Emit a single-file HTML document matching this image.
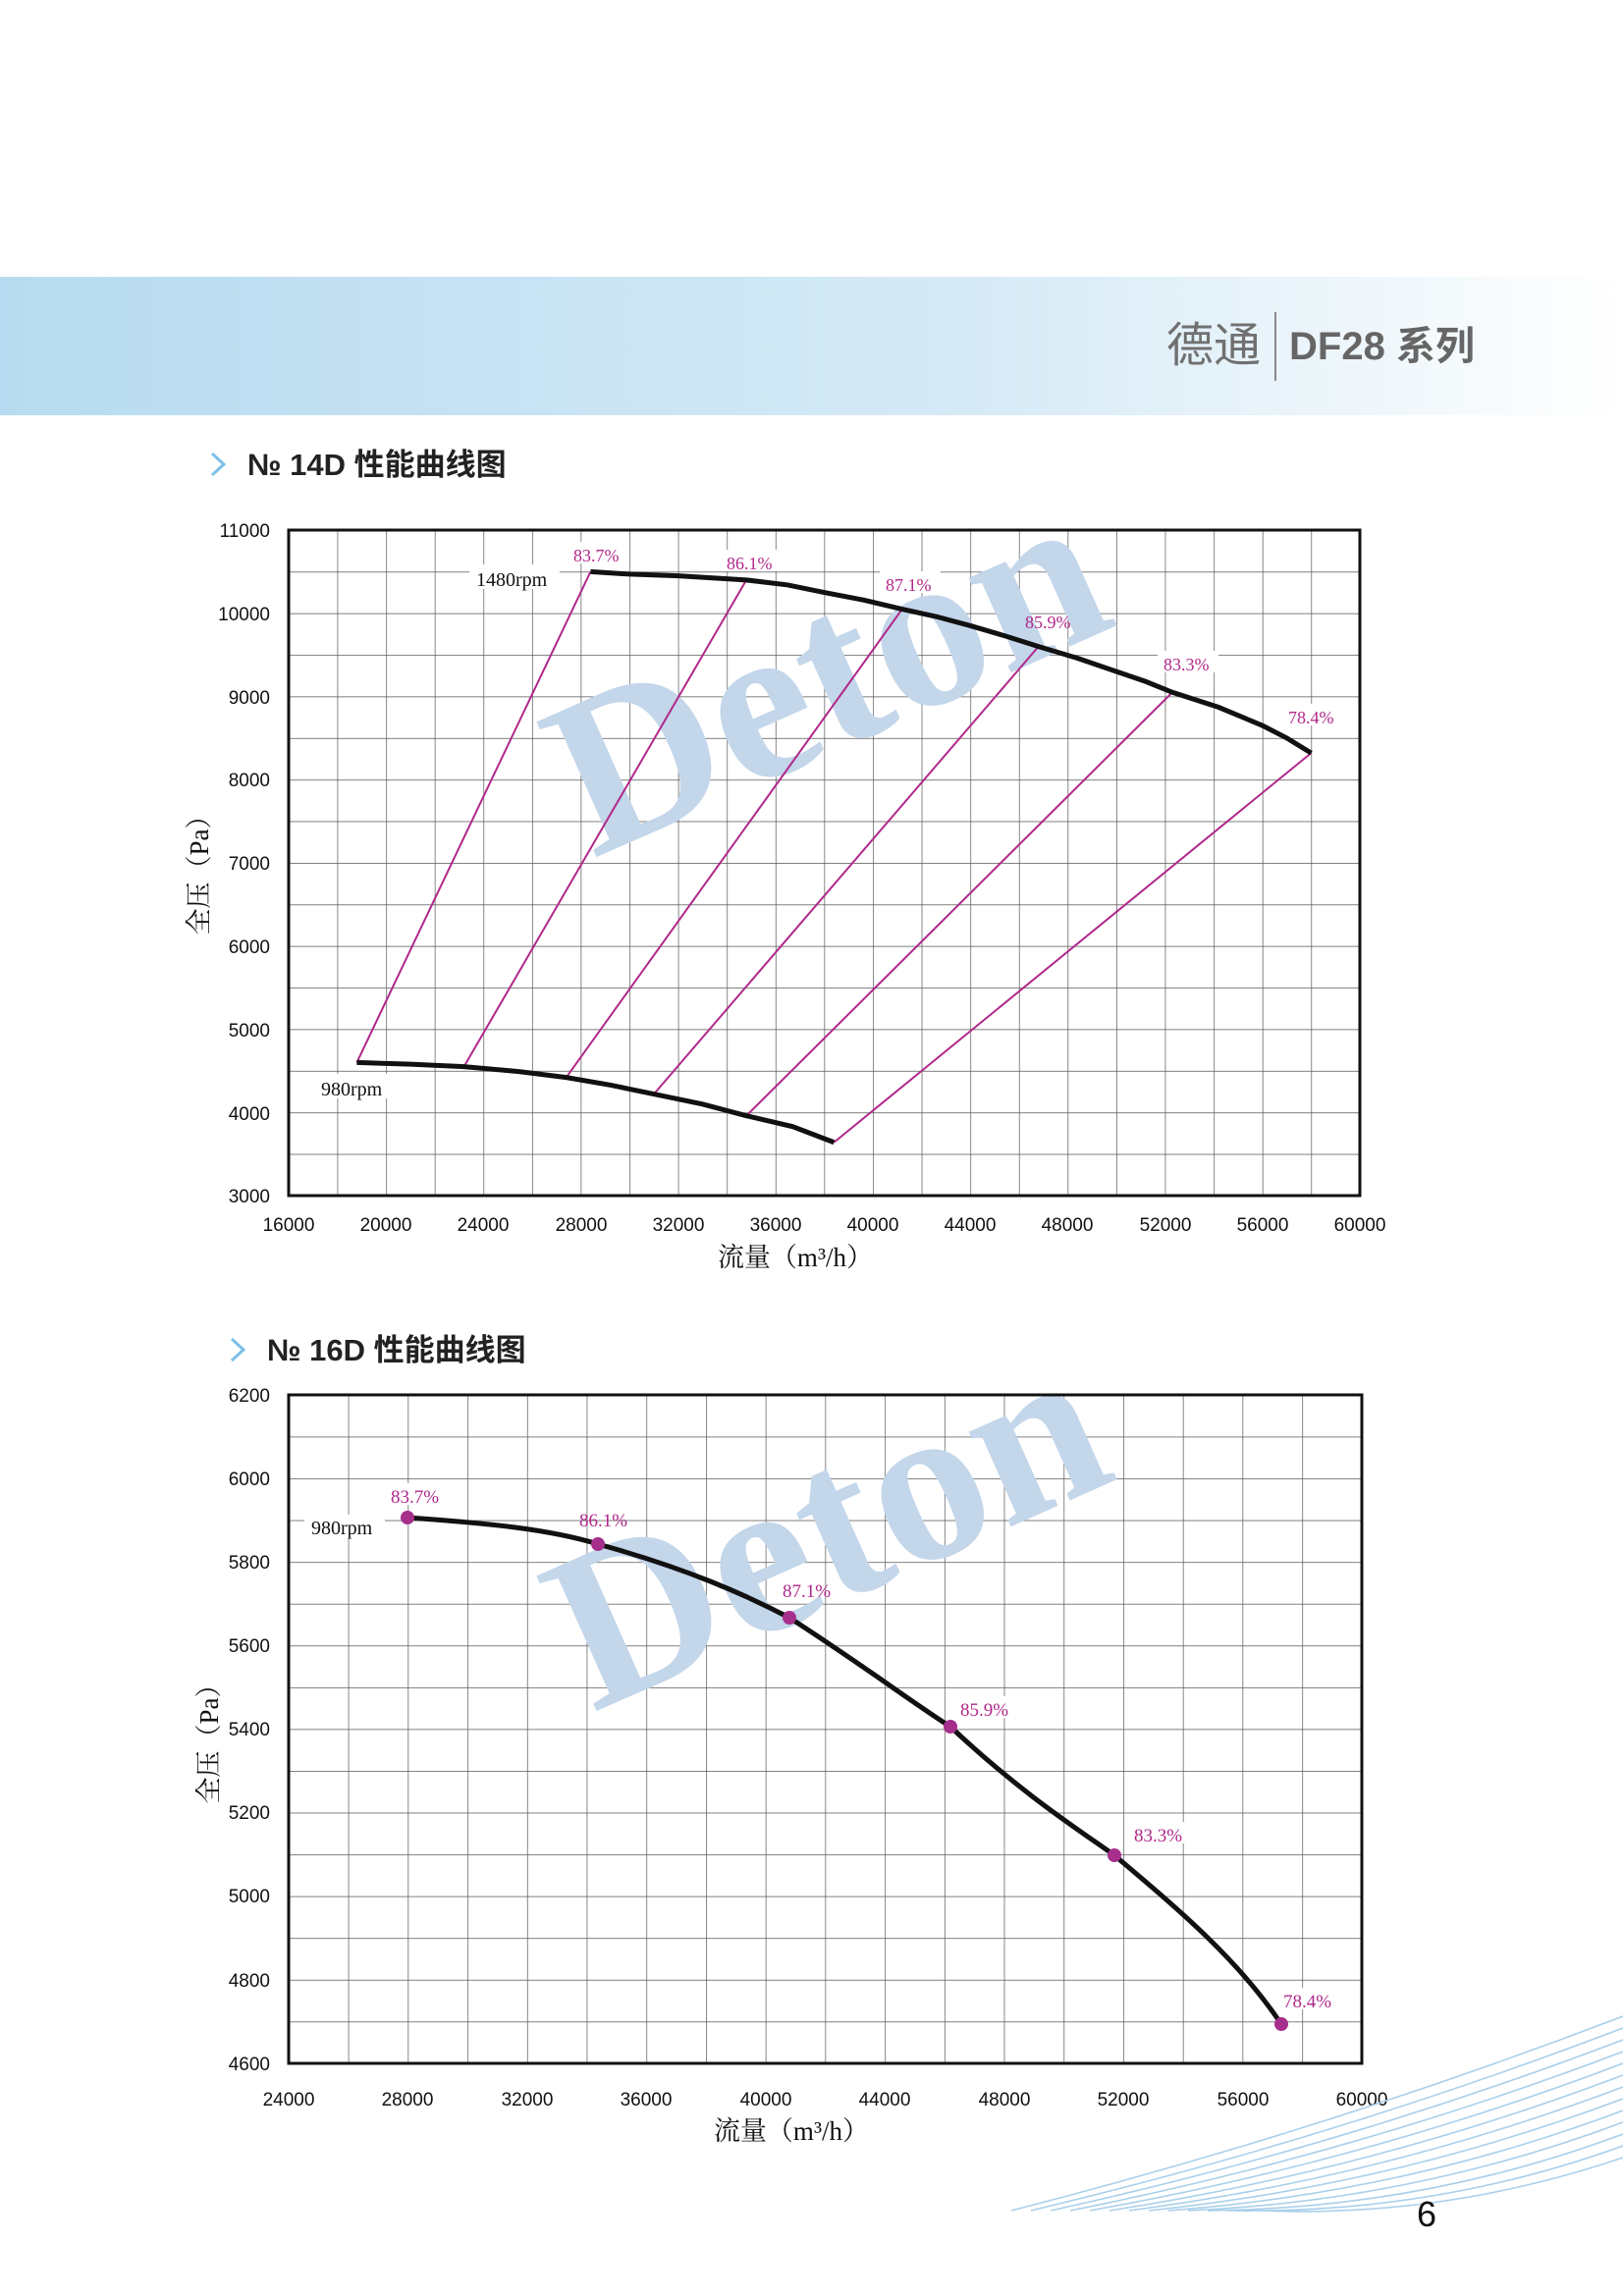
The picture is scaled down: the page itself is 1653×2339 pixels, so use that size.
<!DOCTYPE html>
<html><head><meta charset="utf-8"><style>
html,body{margin:0;padding:0;background:#fff}
svg{display:block}
</style></head><body>
<svg width="1653" height="2339" viewBox="0 0 1653 2339" xmlns="http://www.w3.org/2000/svg" font-family="Liberation Sans, sans-serif">
<defs>
<linearGradient id="hb" x1="0" x2="1" y1="0" y2="0">
<stop offset="0" stop-color="#b7dbf0"/><stop offset="0.6" stop-color="#d6eaf6"/><stop offset="1" stop-color="#ffffff"/>
</linearGradient>
<pattern id="g1" x="294" y="540" width="49.59" height="42.375" patternUnits="userSpaceOnUse">
<path d="M0 0H49.59M0 0V42.375" stroke="#555" stroke-width="1.4" fill="none"/>
</pattern>
<pattern id="g2" x="294" y="1421" width="60.72" height="42.56" patternUnits="userSpaceOnUse">
<path d="M0 0H60.72M0 0V42.56" stroke="#555" stroke-width="1.4" fill="none"/>
</pattern>
</defs>
<rect x="0" y="282" width="1653" height="141" fill="url(#hb)"/>
<text x="1188" y="368" font-size="48" fill="#707070" font-family="Liberation Sans, Noto Sans CJK SC, sans-serif">德通</text>
<line x1="1299" y1="318" x2="1299" y2="388" stroke="#888" stroke-width="2"/>
<text x="1313" y="366" font-size="40" font-weight="bold" fill="#666" font-family="Liberation Sans, Noto Sans CJK SC, sans-serif">DF28 系列</text>

<path d="M216 462 L228 473 L216 484" stroke="#7cc0e8" stroke-width="3" fill="none"/>
<text x="252" y="484" font-size="31" font-weight="bold" fill="#222" font-family="Liberation Sans, Noto Sans CJK SC, sans-serif">№ 14D 性能曲线图</text>
<path d="M236 1364 L248 1375 L236 1386" stroke="#7cc0e8" stroke-width="3" fill="none"/>
<text x="272" y="1386" font-size="31" font-weight="bold" fill="#222" font-family="Liberation Sans, Noto Sans CJK SC, sans-serif">№ 16D 性能曲线图</text>

<rect x="294" y="540" width="1091" height="678" fill="url(#g1)"/>
<text x="850" y="760" font-size="230" font-weight="bold" fill="#c3d6ea" text-anchor="middle" font-family="Liberation Serif, serif" transform="rotate(-24 850 705)">Deton</text>
<svg x="294" y="540" width="1091" height="678" viewBox="16000 -11000 44000 8000" preserveAspectRatio="none" overflow="visible">
<g stroke="#b0288a" stroke-width="2" fill="none">
<line x1="28400" y1="-10500" x2="18800" y2="-4600" vector-effect="non-scaling-stroke"/>
<line x1="34800" y1="-10400" x2="23200" y2="-4550" vector-effect="non-scaling-stroke"/>
<line x1="41200" y1="-10050" x2="27400" y2="-4420" vector-effect="non-scaling-stroke"/>
<line x1="46800" y1="-9600" x2="31000" y2="-4220" vector-effect="non-scaling-stroke"/>
<line x1="52300" y1="-9050" x2="34800" y2="-3960" vector-effect="non-scaling-stroke"/>
<line x1="58000" y1="-8320" x2="38400" y2="-3640" vector-effect="non-scaling-stroke"/>
</g>
<polyline fill="none" stroke="#111" stroke-width="5" vector-effect="non-scaling-stroke" points="28400,-10500 30000,-10470 32000,-10450 34800,-10400 36500,-10340 38000,-10250 39600,-10160 41200,-10050 42600,-9960 44000,-9850 45400,-9730 46800,-9600 48400,-9460 50000,-9300 51200,-9180 52300,-9050 54200,-8870 56000,-8650 57000,-8500 58000,-8320"/>
<polyline fill="none" stroke="#111" stroke-width="5" vector-effect="non-scaling-stroke" points="18800,-4600 21000,-4580 23200,-4550 25500,-4490 27400,-4420 29200,-4330 31000,-4220 33000,-4100 34800,-3960 36700,-3830 38400,-3640"/>
</svg>
<rect x="294" y="540" width="1091" height="678" fill="none" stroke="#111" stroke-width="3"/>
<g font-size="18" fill="#b0288a" font-family="Liberation Serif, serif">
<rect x="578" y="552" width="62" height="22" fill="#fff"/><text x="584" y="572">83.7%</text>
<rect x="734" y="560" width="62" height="22" fill="#fff"/><text x="740" y="580">86.1%</text>
<rect x="896" y="582" width="62" height="22" fill="#fff"/><text x="902" y="602">87.1%</text>
<text x="1044" y="640">85.9%</text>
<rect x="1179" y="663" width="62" height="22" fill="#fff"/><text x="1185" y="683">83.3%</text>
<rect x="1306" y="717" width="62" height="22" fill="#fff"/><text x="1312" y="737">78.4%</text>
</g>
<g font-size="20" fill="#111" font-family="Liberation Serif, serif">
<rect x="478" y="575" width="92" height="25" fill="#fff"/><text x="485" y="597">1480rpm</text>
<rect x="320" y="1094" width="82" height="25" fill="#fff"/><text x="327" y="1116">980rpm</text>
</g>
<g font-size="19" fill="#111" text-anchor="end">
<text x="275" y="547">11000</text><text x="275" y="632">10000</text><text x="275" y="717">9000</text>
<text x="275" y="801">8000</text><text x="275" y="886">7000</text><text x="275" y="971">6000</text>
<text x="275" y="1056">5000</text><text x="275" y="1141">4000</text><text x="275" y="1225">3000</text>
</g>
<g font-size="19" fill="#111" text-anchor="middle">
<text x="294" y="1254">16000</text><text x="393" y="1254">20000</text><text x="492" y="1254">24000</text>
<text x="592" y="1254">28000</text><text x="691" y="1254">32000</text><text x="790" y="1254">36000</text>
<text x="889" y="1254">40000</text><text x="988" y="1254">44000</text><text x="1087" y="1254">48000</text>
<text x="1187" y="1254">52000</text><text x="1286" y="1254">56000</text><text x="1385" y="1254">60000</text>
</g>
<text x="810" y="1290" font-size="27" text-anchor="middle" fill="#111" font-family="Liberation Serif, Noto Serif CJK SC, serif">流量（m³/h）</text>
<text x="0" y="0" font-size="27" text-anchor="middle" fill="#111" font-family="Liberation Serif, Noto Serif CJK SC, serif" transform="translate(212 885) rotate(-90)">全压（Pa）</text>

<rect x="294" y="1421" width="1093" height="681" fill="url(#g2)"/>
<text x="850" y="1630" font-size="230" font-weight="bold" fill="#c3d6ea" text-anchor="middle" font-family="Liberation Serif, serif" transform="rotate(-24 850 1575)">Deton</text>
<path d="M415 1546 C500 1552 560 1558 609 1573 C700 1598 760 1625 804 1648 C880 1697 930 1735 968 1759 C1040 1827 1100 1865 1135 1890 C1200 1945 1260 1995 1305 2062" fill="none" stroke="#111" stroke-width="5"/>
<g fill="#a62f8c">
<circle cx="415" cy="1546" r="7"/><circle cx="609" cy="1573" r="7"/><circle cx="804" cy="1648" r="7"/>
<circle cx="968" cy="1759" r="7"/><circle cx="1135" cy="1890" r="7"/><circle cx="1305" cy="2062" r="7"/>
</g>
<rect x="294" y="1421" width="1093" height="681" fill="none" stroke="#111" stroke-width="3"/>
<g font-size="19" fill="#b0288a" font-family="Liberation Serif, serif">
<rect x="392" y="1511" width="62" height="22" fill="#fff"/><text x="398" y="1531">83.7%</text>
<text x="590" y="1555">86.1%</text>
<text x="797" y="1627">87.1%</text>
<rect x="972" y="1728" width="62" height="22" fill="#fff"/><text x="978" y="1748">85.9%</text>
<rect x="1149" y="1856" width="62" height="22" fill="#fff"/><text x="1155" y="1876">83.3%</text>
<rect x="1301" y="2025" width="62" height="22" fill="#fff"/><text x="1307" y="2045">78.4%</text>
</g>
<rect x="310" y="1543" width="82" height="25" fill="#fff"/>
<text x="317" y="1563" font-size="20" fill="#111" font-family="Liberation Serif, serif">980rpm</text>
<g font-size="19" fill="#111" text-anchor="end">
<text x="275" y="1428">6200</text><text x="275" y="1513">6000</text><text x="275" y="1598">5800</text>
<text x="275" y="1683">5600</text><text x="275" y="1768">5400</text><text x="275" y="1853">5200</text>
<text x="275" y="1938">5000</text><text x="275" y="2024">4800</text><text x="275" y="2109">4600</text>
</g>
<g font-size="19" fill="#111" text-anchor="middle">
<text x="294" y="2145">24000</text><text x="415" y="2145">28000</text><text x="537" y="2145">32000</text>
<text x="658" y="2145">36000</text><text x="780" y="2145">40000</text><text x="901" y="2145">44000</text>
<text x="1023" y="2145">48000</text><text x="1144" y="2145">52000</text><text x="1266" y="2145">56000</text>
<text x="1387" y="2145">60000</text>
</g>
<text x="806" y="2180" font-size="27" text-anchor="middle" fill="#111" font-family="Liberation Serif, Noto Serif CJK SC, serif">流量（m³/h）</text>
<text x="0" y="0" font-size="27" text-anchor="middle" fill="#111" font-family="Liberation Serif, Noto Serif CJK SC, serif" transform="translate(222 1770) rotate(-90)">全压（Pa）</text>

<g fill="none" stroke="#a9d0ea" stroke-width="1.6">
<path d="M1030 2252 Q1350 2170 1653 2054"/>
<path d="M1050 2252 Q1360 2178 1653 2066"/>
<path d="M1070 2252 Q1370 2186 1653 2078"/>
<path d="M1090 2252 Q1380 2194 1653 2090"/>
<path d="M1110 2252 Q1390 2202 1653 2102"/>
<path d="M1130 2252 Q1400 2210 1653 2114"/>
<path d="M1150 2252 Q1410 2218 1653 2126"/>
<path d="M1170 2252 Q1420 2226 1653 2138"/>
<path d="M1190 2252 Q1430 2234 1653 2150"/>
<path d="M1210 2252 Q1440 2242 1653 2162"/>
<path d="M1230 2252 Q1450 2250 1653 2174"/>
<path d="M1250 2252 Q1460 2256 1653 2186"/>
<path d="M1280 2252 Q1470 2260 1653 2198"/>
</g>
<text x="1453" y="2268" font-size="36" fill="#111" text-anchor="middle">6</text>
</svg>
</body></html>
